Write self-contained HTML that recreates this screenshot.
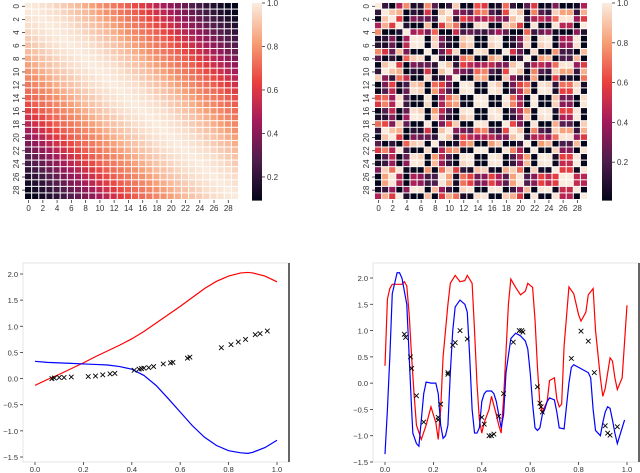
<!DOCTYPE html>
<html><head><meta charset="utf-8"><style>
html,body{margin:0;padding:0;background:#fff;width:640px;height:473px;overflow:hidden}
svg{display:block;font-family:"Liberation Sans",sans-serif}
</style></head><body>
<svg id="s" width="640" height="473"></svg>
<script>
// ---- data ----
const rbfByDistance=[1.0,0.99,0.98,0.97,0.95,0.93,0.91,0.89,0.86,0.83,0.8,0.78,0.75,0.73,0.7,0.66,0.62,0.57,0.52,0.47,0.42,0.38,0.33,0.29,0.25,0.21,0.17,0.14,0.11,0.09];
const periodicPhaseDeg=[0,114,143,78,-46,-127,-120,46,-101,143,114,26,-154,-143,60,66,-143,-127,53,114,143,-101,66,-143,-133,90,154,154,-133,78];
const heatTicks=[0,2,4,6,8,10,12,14,16,18,20,22,24,26,28];
const cbTicks=[0.2,0.4,0.6,0.8,1.0];
const lineXTicks=[0,0.2,0.4,0.6,0.8,1.0];
const lineYTicks=[2.0,1.5,1.0,0.5,0.0,-0.5,-1.0,-1.5];
const leftRedX=[0,0.05,0.1,0.15,0.2,0.25,0.3,0.35,0.4,0.45,0.5,0.55,0.6,0.65,0.7,0.75,0.8,0.85,0.88,0.9,0.95,1.0];
const leftRedY=[-0.13,-0.02,0.08,0.19,0.3,0.42,0.53,0.64,0.76,0.9,1.06,1.22,1.38,1.55,1.72,1.86,1.96,2.02,2.03,2.02,1.96,1.85];
const leftBlueX=[0,0.05,0.1,0.15,0.2,0.25,0.3,0.35,0.4,0.45,0.5,0.55,0.6,0.65,0.7,0.75,0.8,0.85,0.88,0.9,0.95,1.0];
const leftBlueY=[0.33,0.31,0.3,0.29,0.28,0.27,0.26,0.23,0.18,0.06,-0.13,-0.38,-0.64,-0.9,-1.12,-1.28,-1.38,-1.42,-1.43,-1.41,-1.32,-1.18];
const leftPtsX=[0.07,0.08,0.1,0.12,0.15,0.22,0.25,0.28,0.31,0.33,0.41,0.43,0.44,0.45,0.47,0.49,0.53,0.56,0.57,0.63,0.64,0.77,0.81,0.84,0.87,0.91,0.93,0.96];
const leftPtsY=[0.0,0.01,0.02,0.02,0.03,0.04,0.05,0.07,0.09,0.1,0.16,0.18,0.19,0.2,0.21,0.23,0.28,0.3,0.31,0.39,0.41,0.59,0.65,0.7,0.75,0.84,0.86,0.91];
const rightRedX=[0,0.01,0.02,0.03,0.05,0.07,0.08,0.09,0.10,0.11,0.12,0.13,0.15,0.17,0.19,0.21,0.22,0.23,0.24,0.26,0.27,0.29,0.31,0.33,0.34,0.36,0.37,0.38,0.39,0.40,0.41,0.43,0.44,0.46,0.47,0.48,0.49,0.50,0.51,0.52,0.54,0.56,0.58,0.59,0.61,0.62,0.63,0.64,0.65,0.67,0.68,0.70,0.71,0.72,0.73,0.74,0.76,0.78,0.80,0.81,0.83,0.84,0.86,0.87,0.89,0.90,0.91,0.93,0.94,0.95,0.96,0.98,1.0];
const rightRedY=[0.33,1.6,1.8,1.88,1.88,1.88,1.93,1.85,1.3,0.5,-0.2,-0.8,-1.07,-0.8,-0.45,-0.75,-1.07,-0.5,0.5,1.5,1.9,2.05,1.93,1.95,2.05,1.9,1.0,0,-0.7,-0.95,-0.75,-0.5,-0.25,-0.6,-0.8,-0.95,-0.3,0.6,1.5,1.98,1.82,1.68,1.75,1.9,1.82,1.2,0.3,-0.4,-0.55,-0.35,0.05,0.1,-0.3,-0.45,-0.4,0.7,1.83,1.7,1.3,1.18,1.35,1.68,1.8,1.0,0.1,-0.25,-0.1,0.48,0.42,0.1,-0.12,0.1,1.48];
const rightBlueX=[0,0.01,0.02,0.03,0.05,0.06,0.07,0.09,0.10,0.11,0.115,0.13,0.14,0.15,0.16,0.17,0.19,0.21,0.22,0.23,0.24,0.25,0.26,0.27,0.28,0.29,0.31,0.33,0.34,0.35,0.36,0.37,0.38,0.39,0.40,0.41,0.42,0.44,0.45,0.46,0.47,0.48,0.49,0.50,0.52,0.54,0.56,0.58,0.59,0.60,0.61,0.62,0.63,0.64,0.65,0.66,0.67,0.68,0.70,0.71,0.72,0.74,0.76,0.77,0.78,0.80,0.82,0.84,0.85,0.86,0.87,0.88,0.89,0.90,0.91,0.92,0.93,0.94,0.95,0.96,0.97,0.99];
const rightBlueY=[-1.35,-0.5,0.5,1.7,2.1,2.1,2.0,1.5,0.5,-0.5,-0.95,-1.15,-1.2,-0.7,-0.2,0.02,0.0,0.0,-0.2,-0.8,-1.05,-1.0,-0.8,0.2,1.0,1.45,1.58,1.5,1.35,0.5,-0.5,-0.95,-0.95,-0.85,-0.35,-0.2,-0.15,-0.15,-0.2,-0.35,-0.6,-0.85,-0.6,0.2,0.85,0.95,0.9,0.8,0.65,0.2,-0.4,-0.85,-0.9,-0.85,-0.6,-0.5,-0.35,-0.28,-0.32,-0.55,-0.85,-0.87,0.0,0.3,0.35,0.3,0.25,0.2,0.1,-0.5,-0.9,-0.95,-1.0,-0.75,-0.55,-0.45,-0.48,-0.7,-0.95,-1.15,-1.0,-0.7];
const rightPtsX=[0.08,0.085,0.105,0.11,0.13,0.16,0.22,0.22,0.23,0.26,0.26,0.28,0.29,0.31,0.34,0.40,0.41,0.43,0.44,0.45,0.47,0.49,0.53,0.555,0.565,0.57,0.63,0.64,0.645,0.65,0.77,0.81,0.84,0.865,0.91,0.92,0.93,0.96];
const rightPtsY=[0.93,0.87,0.5,0.28,-0.24,-0.74,-0.65,-0.7,-0.4,0.17,0.2,0.72,0.77,1.0,0.84,-0.65,-0.78,-1.0,-1.0,-0.97,-0.63,-0.2,0.78,1.0,1.0,0.97,-0.07,-0.38,-0.45,-0.55,0.47,0.99,0.8,0.2,-0.81,-0.95,-0.99,-0.83];

// ---- helpers ----
const NS='http://www.w3.org/2000/svg';const svg=document.getElementById('s');
function mk(tag,attrs,parent){const e=document.createElementNS(NS,tag);for(const k in attrs)e.setAttribute(k,attrs[k]);(parent||svg).appendChild(e);return e;}
const stops=[[0,[3,5,26]],[0.2,[76,29,75]],[0.4,[161,26,91]],[0.6,[232,63,63]],[0.8,[246,156,115]],[1,[250,235,221]]];
function cmap(t){t=Math.max(0,Math.min(1,t));for(let i=1;i<stops.length;i++){if(t<=stops[i][0]){const a=stops[i-1],b=stops[i];const f=(t-a[0])/(b[0]-a[0]);const c=a[1].map((v,k)=>Math.round(v+(b[1][k]-v)*f));return 'rgb('+c.join(',')+')';}}return 'rgb(250,235,221)';}

function heatmap(name,x0,y0,x1,y1,valFn,vmin,vmax,cbx){
  const g=mk('g',{});
  const n=30,cw=(x1-x0)/n,ch=(y1-y0)/n;
  for(let i=0;i<n;i++)for(let j=0;j<n;j++){
    const v=valFn(i,j);
    const r=mk('rect',{x:x0+j*cw,y:y0+i*ch,width:cw-1,height:ch-1,fill:cmap((v-vmin)/(vmax-vmin))},g);
    
    
  }
  heatTicks.forEach(t=>{
    const cx=x0+(t+0.5)*cw,cy=y0+(t+0.5)*ch;
    mk('line',{x1:cx,y1:y1,x2:cx,y2:y1+3,stroke:'#333','stroke-width':0.8},g);
    const tx=mk('text',{x:cx,y:y1+11,'font-size':8,fill:'#333','text-anchor':'middle'},g);tx.textContent=t;
    
    mk('line',{x1:x0-3,y1:cy,x2:x0,y2:cy,stroke:'#333','stroke-width':0.8},g);
    const ty=mk('text',{x:0,y:0,'font-size':8,fill:'#333','text-anchor':'middle',transform:`translate(${x0-6},${cy}) rotate(-90)`},g);ty.textContent=t;
    
  });
  const cb=mk('g',{});
  const H=y1-y0;
  for(let k=0;k<100;k++){const t=1-k/100;mk('rect',{x:cbx,y:y0+k*H/100,width:10,height:H/100+0.6,fill:cmap(t)},cb);}
  cbTicks.forEach(v=>{const y=y1-(v-vmin)/(vmax-vmin)*H;
    mk('line',{x1:cbx+10,y1:y,x2:cbx+13,y2:y,stroke:'#333','stroke-width':0.8},cb);
    const t=mk('text',{x:cbx+15,y:y+3,'font-size':8,fill:'#333'},cb);t.textContent=v.toFixed(1);
    });
}
heatmap('rbf-kernel-heatmap',25,3,239,200,(i,j)=>rbfByDistance[Math.abs(i-j)],0.094,1.0,252);
heatmap('periodic-kernel-heatmap',375,3,588,200,(i,j)=>Math.pow(0.5+0.5*Math.cos((periodicPhaseDeg[i]-periodicPhaseDeg[j])*Math.PI/180),1.6),0.01,1.0,602);

function lineplot(name,fl,ft,fr,fb,x0px,x1px,y2px,ym15px,curves,px,py,labelX){
  const g=mk('g',{});
  const X=t=>x0px+(x1px-x0px)*t, Y=v=>y2px+(2-v)*(ym15px-y2px)/3.5;
  mk('rect',{x:fl,y:ft,width:fr-fl,height:fb-ft,fill:'none',stroke:'#e6e6e6','stroke-width':1},g);
  mk('line',{x1:fr,y1:ft,x2:fr,y2:fb,stroke:'#000','stroke-width':1.2},g);
  lineXTicks.forEach(t=>{mk('line',{x1:X(t),y1:fb,x2:X(t),y2:fb+3,stroke:'#333','stroke-width':0.8},g);
    const tx=mk('text',{x:X(t),y:fb+10,'font-size':7.5,fill:'#333','text-anchor':'middle'},g);tx.textContent=t.toFixed(1);
    });
  lineYTicks.forEach(v=>{mk('line',{x1:fl-3,y1:Y(v),x2:fl,y2:Y(v),stroke:'#333','stroke-width':0.8},g);
    const ty=mk('text',{x:labelX,y:Y(v)+3,'font-size':7.5,fill:'#333','text-anchor':'end'},g);ty.textContent=v.toFixed(1).replace('-','\u2212');
    });
  curves.forEach(c=>{const p=mk('polyline',{points:c.xs.map((t,i)=>X(t)+','+Y(c.ys[i])).join(' '),fill:'none',stroke:c.color,'stroke-width':1.2},g);
    });
  px.forEach((t,i)=>{const cx=X(t),cy=Y(py[i]);
    const m=mk('path',{d:`M${cx-2.3},${cy-2.3}L${cx+2.3},${cy+2.3}M${cx-2.3},${cy+2.3}L${cx+2.3},${cy-2.3}`,stroke:'#000','stroke-width':0.9},g);
    });
}
lineplot('linear-fit-plot',23,263,289,462,35,277,274,457,
  [{xs:leftRedX,ys:leftRedY,color:'#ff0000',name:'upper-bound-line'},{xs:leftBlueX,ys:leftBlueY,color:'#0000ff',name:'lower-bound-line'}],leftPtsX,leftPtsY,18);
lineplot('periodic-fit-plot',373,263,639,462,385,627,278,462,
  [{xs:rightRedX,ys:rightRedY,color:'#ff0000',name:'upper-bound-line'},{xs:rightBlueX,ys:rightBlueY,color:'#0000ff',name:'lower-bound-line'}],rightPtsX,rightPtsY,368);
</script>
</body></html>
